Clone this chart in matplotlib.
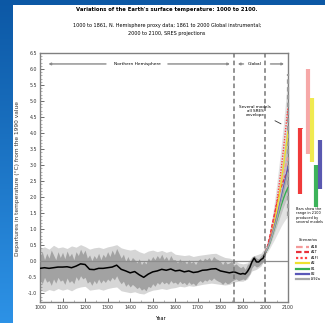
import numpy as np
import matplotlib.pyplot as plt
from matplotlib.lines import Line2D
from matplotlib.patches import Rectangle
from matplotlib.colors import LinearSegmentedColormap

# ---- data ----
# proxy + instrumental record, decadal steps (envelope of annual values)
band_years = list(range(1000, 2001, 10))
dark_hi = [0.15, 0.30, 0.05, 0.25, 0.10, 0.35, 0.20, 0.05, 0.30, 0.12,
           0.28, 0.08, 0.32, 0.15, 0.25, 0.05, 0.30, 0.18, 0.38, 0.22,
           0.35, 0.10, 0.20, 0.02, 0.18, 0.08, 0.25, 0.05, 0.22, 0.12,
           0.30, 0.15, 0.35, 0.20, 0.40, 0.25, 0.10, 0.22, 0.00, 0.15,
           -0.02, 0.12, 0.05, -0.05, 0.08, -0.10, 0.00, -0.08, 0.10, 0.02,
           0.15, 0.05, 0.18, 0.08, 0.22, 0.06, 0.15, 0.02, 0.18, 0.05,
           0.05, -0.05, 0.08, -0.02, 0.02, -0.08, 0.05, -0.05, 0.00, -0.10,
           0.02, 0.08, -0.02, 0.10, 0.05, 0.12, 0.02, 0.15, 0.08, 0.05,
           0.00, -0.10, 0.02, -0.08, -0.05, 0.00, -0.12, -0.08, -0.15, -0.20,
           -0.15, -0.25, -0.10, -0.05, 0.12, 0.18, 0.10, 0.08, 0.18, 0.25, 0.40]
dark_lo = [-0.55, -0.70, -0.50, -0.65, -0.60, -0.75, -0.55, -0.68, -0.50, -0.62,
           -0.58, -0.72, -0.52, -0.66, -0.60, -0.70, -0.48, -0.60, -0.45, -0.55,
           -0.50, -0.68, -0.62, -0.75, -0.60, -0.70, -0.55, -0.68, -0.58, -0.66,
           -0.55, -0.62, -0.50, -0.58, -0.45, -0.60, -0.70, -0.62, -0.78, -0.70,
           -0.80, -0.72, -0.78, -0.85, -0.80, -0.90, -0.85, -0.92, -0.78, -0.82,
           -0.70, -0.78, -0.66, -0.72, -0.62, -0.70, -0.65, -0.72, -0.60, -0.68,
           -0.65, -0.72, -0.62, -0.70, -0.66, -0.74, -0.64, -0.72, -0.68, -0.76,
           -0.66, -0.60, -0.66, -0.58, -0.62, -0.55, -0.60, -0.52, -0.58, -0.62,
           -0.65, -0.72, -0.64, -0.70, -0.68, -0.62, -0.58, -0.55, -0.60, -0.58,
           -0.55, -0.58, -0.48, -0.40, -0.20, -0.12, -0.18, -0.15, -0.08, -0.02, 0.15]

# uncertainty range, 20-year steps
light_years = list(range(1000, 2001, 20))
light_hi = [0.40, 0.45, 0.38, 0.50, 0.42, 0.45, 0.40, 0.48, 0.44, 0.52,
            0.46, 0.38, 0.42, 0.44, 0.40, 0.45, 0.48, 0.52, 0.42, 0.38,
            0.35, 0.38, 0.30, 0.25, 0.32, 0.35, 0.30, 0.34, 0.28, 0.32,
            0.22, 0.20, 0.18, 0.20, 0.15, 0.18, 0.20, 0.22, 0.24, 0.25,
            0.18, 0.12, 0.10, 0.05, -0.05, -0.08, -0.05, 0.15, 0.20, 0.25, 0.45]
light_lo = [-0.90, -0.95, -0.88, -0.92, -0.85, -0.90, -0.86, -0.92, -0.84, -0.80,
            -0.78, -0.90, -0.88, -0.86, -0.90, -0.85, -0.82, -0.80, -0.92, -0.95,
            -0.98, -0.95, -1.00, -1.02, -0.95, -0.90, -0.88, -0.85, -0.88, -0.84,
            -0.82, -0.78, -0.80, -0.76, -0.78, -0.75, -0.72, -0.70, -0.68, -0.70,
            -0.72, -0.74, -0.72, -0.65, -0.62, -0.62, -0.55, -0.30, -0.25, -0.15, 0.10]

# smoothed record
smooth_years = [1000, 1020, 1040, 1060, 1080, 1100, 1120, 1140, 1160, 1180,
                1200, 1220, 1240, 1260, 1280, 1300, 1320, 1340, 1360, 1380,
                1400, 1420, 1440, 1460, 1480, 1500, 1520, 1540, 1560, 1580,
                1600, 1620, 1640, 1660, 1680, 1700, 1720, 1740, 1760, 1780,
                1800, 1820, 1840, 1860, 1870, 1880, 1890, 1900, 1910, 1920,
                1930, 1940, 1950, 1960, 1970, 1980, 1990, 2000]
smooth_vals = [-0.22, -0.20, -0.22, -0.20, -0.18, -0.18, -0.17, -0.20, -0.15, -0.08,
               -0.10, -0.25, -0.26, -0.22, -0.22, -0.20, -0.18, -0.12, -0.25, -0.30,
               -0.36, -0.32, -0.42, -0.50, -0.40, -0.33, -0.30, -0.25, -0.28, -0.24,
               -0.30, -0.28, -0.33, -0.30, -0.35, -0.33, -0.28, -0.27, -0.24, -0.23,
               -0.30, -0.33, -0.36, -0.33, -0.35, -0.38, -0.40, -0.38, -0.40, -0.32,
               -0.20, -0.02, 0.10, -0.02, -0.02, 0.05, 0.10, 0.28]

# projections 2000-2100
proj_years = list(range(2000, 2101, 10))
env_lo = [0.20, 0.30, 0.42, 0.55, 0.68, 0.82, 0.96, 1.10, 1.22, 1.32, 1.40]
env_hi = [0.35, 0.62, 0.98, 1.40, 1.88, 2.42, 3.00, 3.62, 4.30, 5.05, 5.85]
ens_lo = [0.25, 0.38, 0.52, 0.70, 0.90, 1.10, 1.30, 1.50, 1.70, 1.88, 2.05]
ens_hi = [0.30, 0.50, 0.75, 1.05, 1.42, 1.85, 2.32, 2.85, 3.38, 3.92, 4.50]

scenarios = ['A1B', 'A1T', 'A1FI', 'A2', 'B1', 'B2', 'IS92a']
scen_colors = ['#f49a9a', '#e8303a', '#ff4040', '#eee030', '#34b050', '#5a58b8', '#a8a8a8']
scen_styles = [(0, (3, 1.5)), (0, (2.5, 1.2)), (0, (1, 1)), '-', '-', '-', '-']
scen_vals = [
    [0.28, 0.48, 0.75, 1.05, 1.40, 1.75, 2.10, 2.42, 2.72, 3.00, 3.25],
    [0.28, 0.50, 0.80, 1.15, 1.48, 1.80, 2.08, 2.32, 2.52, 2.70, 2.85],
    [0.28, 0.45, 0.70, 1.00, 1.40, 1.85, 2.35, 2.90, 3.50, 4.15, 4.80],
    [0.28, 0.42, 0.62, 0.88, 1.20, 1.58, 2.00, 2.48, 2.98, 3.50, 4.05],
    [0.28, 0.40, 0.58, 0.80, 1.03, 1.28, 1.52, 1.75, 1.96, 2.15, 2.30],
    [0.28, 0.42, 0.62, 0.85, 1.10, 1.38, 1.67, 1.98, 2.30, 2.62, 2.95],
    [0.28, 0.42, 0.60, 0.82, 1.06, 1.32, 1.60, 1.88, 2.18, 2.48, 2.78],
]

# ranges in 2100 from several models (bars right of the plot)
bar_lo = [2.10, 3.35, 3.10, 1.70, 2.25]
bar_hi = [4.15, 6.00, 5.10, 3.00, 3.80]
bar_colors = ['#f03a3a', '#f7a8a8', '#f0ea50', '#3cb35a', '#5a58b0']

W, H = 325, 323


def fx(px):
    return px / W


def fy(py):
    return 1 - py / H


fig = plt.figure(figsize=(3.25, 3.23), dpi=100)

# blue frame + white page
bg = fig.add_axes([0, 0, 1, 1])
bg.axis('off')
grad = np.linspace(0, 1, 256).reshape(-1, 1)
bg.imshow(grad, aspect='auto', extent=[0, 1, 0, 1],
          cmap=LinearSegmentedColormap.from_list('bl', ['#0c58a5', '#2d92e6']))
bg.add_patch(Rectangle((fx(13), 0), 1, fy(5), color='white', lw=0))
bg.set_xlim(0, 1)
bg.set_ylim(0, 1)

ax = fig.add_axes([fx(40), fy(302), fx(288) - fx(40), fy(53) - fy(302)])
ax.set_xlim(1000, 2100)
ax.set_ylim(-1.27, 6.45)

ax.fill_between(light_years, light_lo, light_hi, color='#d6d6d6', lw=0, zorder=1)
ax.fill_between(band_years, dark_lo, dark_hi, color='#a2a2a2', lw=0, zorder=2)
ax.axhline(0, color='#8c8c8c', lw=0.9, zorder=3)
ax.plot(smooth_years, smooth_vals, color='black', lw=1.1, zorder=4)

ax.fill_between(proj_years, env_lo, env_hi, color='#e2e2e2', lw=0, zorder=1)
ax.fill_between(proj_years, ens_lo, ens_hi, color='#c4c4c4', lw=0, zorder=2)
ax.plot([2100, 2100], [env_lo[-1], env_hi[-1]], color='#9a9a9a', lw=1.6,
        ls=(0, (2, 1.5)), zorder=3, clip_on=False)
for vals, c, ls in zip(scen_vals, scen_colors, scen_styles):
    ax.plot(proj_years, vals, color=c, ls=ls, lw=1.0, zorder=5)

for xb, lo, hi, c in zip([2155, 2190, 2206, 2222, 2240], bar_lo, bar_hi, bar_colors):
    ax.plot([xb, xb], [lo, hi], color=c, lw=3, clip_on=False, solid_capstyle='butt')
    ax.plot([xb - 5, xb + 5], [hi, hi], color=c, lw=0.6, clip_on=False)

for xv in (1860, 2000):
    ax.axvline(xv, color='#777777', lw=1.1, ls=(0, (3, 2)), zorder=6)

# header strip
yh = 0.956
tr = ax.get_xaxis_transform()
hdr = dict(arrowstyle='-|>', lw=1.0, color='#8a8a8a', mutation_scale=3)
ax.annotate('', xy=(1025, yh), xytext=(1305, yh), xycoords=tr, textcoords=tr, arrowprops=hdr)
ax.annotate('', xy=(1855, yh), xytext=(1555, yh), xycoords=tr, textcoords=tr, arrowprops=hdr)
ax.text(1432, yh, 'Northern Hemisphere', transform=tr, ha='center', va='center', fontsize=3.2)
ax.annotate('', xy=(1865, yh), xytext=(1915, yh), xycoords=tr, textcoords=tr, arrowprops=hdr)
ax.text(1952, yh, 'Global', transform=tr, ha='center', va='center', fontsize=3.2)
ax.annotate('', xy=(2095, yh), xytext=(2010, yh), xycoords=tr, textcoords=tr, arrowprops=hdr)

ax.annotate('Several models\nall SRES\nenvelope', xy=(2080, 4.25), xytext=(1955, 4.7),
            ha='center', va='center', fontsize=3, linespacing=1.0,
            arrowprops=dict(arrowstyle='-', color='#333333', lw=0.6), zorder=7)

# axes styling
for s in ax.spines.values():
    s.set_color('#808080')
    s.set_linewidth(1.0)
ax.set_xticks(range(1000, 2101, 100))
ax.set_xticks(range(1000, 2101, 50), minor=True)
ax.set_yticks(np.arange(-1.0, 6.51, 0.5))
ax.set_yticks(np.arange(-1.2, 6.45, 0.1), minor=True)
ax.set_yticklabels([f'{v:.1f}' for v in np.arange(-1.0, 6.51, 0.5)])
ax.tick_params(which='major', direction='in', length=3, width=0.6, labelsize=3.4, pad=2,
               colors='#555555', labelcolor='#333333')
ax.tick_params(which='minor', direction='in', length=1.5, width=0.4, colors='#777777')

fig.text(fx(167), fy(10), "Variations of the Earth's surface temperature: 1000 to 2100.",
         ha='center', va='center', fontsize=3.8, weight='bold')
fig.text(fx(167), fy(25), '1000 to 1861, N. Hemisphere proxy data; 1861 to 2000 Global instrumental;',
         ha='center', va='center', fontsize=3.5)
fig.text(fx(167), fy(33), '2000 to 2100, SRES projections', ha='center', va='center', fontsize=3.5)
fig.text(fx(18), fy(178), 'Departures in temperature (\u00b0C) from the 1990 value',
         rotation=90, ha='center', va='center', fontsize=4.2, color='#333333')
fig.text(fx(160), fy(318), 'Year', ha='center', va='center', fontsize=3.6)

fig.text(fx(296), fy(207), 'Bars show the\nrange in 2100\nproduced by\nseveral models',
         ha='left', va='top', fontsize=2.5, linespacing=1.1)

fig.text(fx(299), fy(240), 'Scenarios', ha='left', va='center', fontsize=2.8, style='italic')
for i, (name, c, ls) in enumerate(zip(scenarios, scen_colors, scen_styles)):
    yy = fy(247 + i * 5.4)
    fig.add_artist(Line2D([fx(296), fx(309)], [yy, yy], color=c, ls=ls, lw=1.6,
                          transform=fig.transFigure))
    fig.text(fx(311), yy, name, ha='left', va='center', fontsize=2.5)

fig.savefig('out.png', dpi=100)
